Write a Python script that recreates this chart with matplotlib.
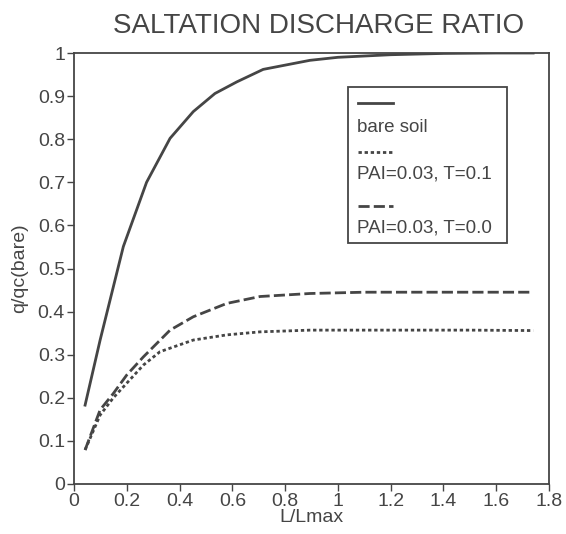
import matplotlib
matplotlib.use("Agg")
import matplotlib.pyplot as plt
from matplotlib.patches import Rectangle

plt.rcParams['font.family'] = ['Liberation Sans', 'DejaVu Sans']

x_bare = [0.042, 0.099, 0.187, 0.275, 0.364, 0.452, 0.534, 0.617, 0.717, 0.894, 1.0, 1.2, 1.4, 1.6, 1.74]
y_bare = [0.183, 0.334, 0.551, 0.7, 0.802, 0.864, 0.906, 0.933, 0.962, 0.983, 0.99, 0.996, 0.999, 1.0, 1.0]

x_t0 = [0.042, 0.099, 0.149, 0.2, 0.263, 0.364, 0.452, 0.579, 0.705, 0.894, 1.1, 1.3, 1.5, 1.74]
y_t0 = [0.079, 0.172, 0.21, 0.253, 0.295, 0.357, 0.388, 0.419, 0.435, 0.442, 0.445, 0.445, 0.445, 0.445]

x_t1 = [0.042, 0.099, 0.149, 0.2, 0.263, 0.326, 0.452, 0.579, 0.705, 0.894, 1.1, 1.3, 1.5, 1.74]
y_t1 = [0.079, 0.16, 0.2, 0.234, 0.276, 0.307, 0.334, 0.346, 0.353, 0.357, 0.357, 0.357, 0.357, 0.356]

labels = ["bare soil", "PAI=0.03, T=0.1", "PAI=0.03, T=0.0"]
xticks = [0, 0.2, 0.4, 0.6, 0.8, 1, 1.2, 1.4, 1.6, 1.8]
xtick_labels = ["0", "0.2", "0.4", "0.6", "0.8", "1", "1.2", "1.4", "1.6", "1.8"]
yticks = [0, 0.1, 0.2, 0.3, 0.4, 0.5, 0.6, 0.7, 0.8, 0.9, 1]
ytick_labels = ["0", "0.1", "0.2", "0.3", "0.4", "0.5", "0.6", "0.7", "0.8", "0.9", "1"]

col = "#454545"
fig = plt.figure(figsize=(5.66, 5.34), dpi=100)
ax = fig.add_axes([74 / 566, 1 - 484 / 534, (549 - 74) / 566, (484 - 53) / 534])

dot = (0, (1.2, 1.0))
dash = (0, (4, 1.5))
ax.plot(x_bare, y_bare, color=col, lw=2.0, ls='-')
ax.plot(x_t1, y_t1, color=col, lw=2.0, ls=dot)
ax.plot(x_t0, y_t0, color=col, lw=2.0, ls=dash)

ax.set_xlim(0, 1.8)
ax.set_ylim(0, 1)
ax.set_xticks(xticks)
ax.set_xticklabels(xtick_labels)
ax.set_yticks(yticks)
ax.set_yticklabels(ytick_labels)
ax.tick_params(direction='out', length=5, width=1, colors=col, labelsize=14, pad=1.5)
for s in ax.spines.values():
    s.set_color(col)
    s.set_linewidth(1.3)

ax.set_xlabel("L/Lmax", fontsize=14, color=col, labelpad=-1)
ax.set_ylabel("q/qc(bare)", fontsize=14, color=col, labelpad=7)
fig.text(319 / 566, 0.952, "SALTATION DISCHARGE RATIO", ha='center', va='center', fontsize=20, color=col)

# manual legend (axes coordinates)
def axx(px):
    return (px - 74) / 475.0

def axy(py):
    return (484 - py) / 431.0

ax.add_patch(Rectangle((axx(348), axy(243)), axx(507) - axx(348), axy(87) - axy(243),
                       transform=ax.transAxes, fill=False, edgecolor=col, lw=1.3))
styles = ['-', dot, dash]
line_ys = [103, 152, 206]
text_ys = [128, 174, 228]
for st, ly, ty, lab in zip(styles, line_ys, text_ys, labels):
    ax.plot([axx(358), axx(393)], [axy(ly), axy(ly)], transform=ax.transAxes, color=col, lw=2.0, ls=st)
    ax.text(axx(357), axy(ty), lab, transform=ax.transAxes, ha='left', va='center', fontsize=13.5, color=col)

fig.savefig("out.png", dpi=100)
